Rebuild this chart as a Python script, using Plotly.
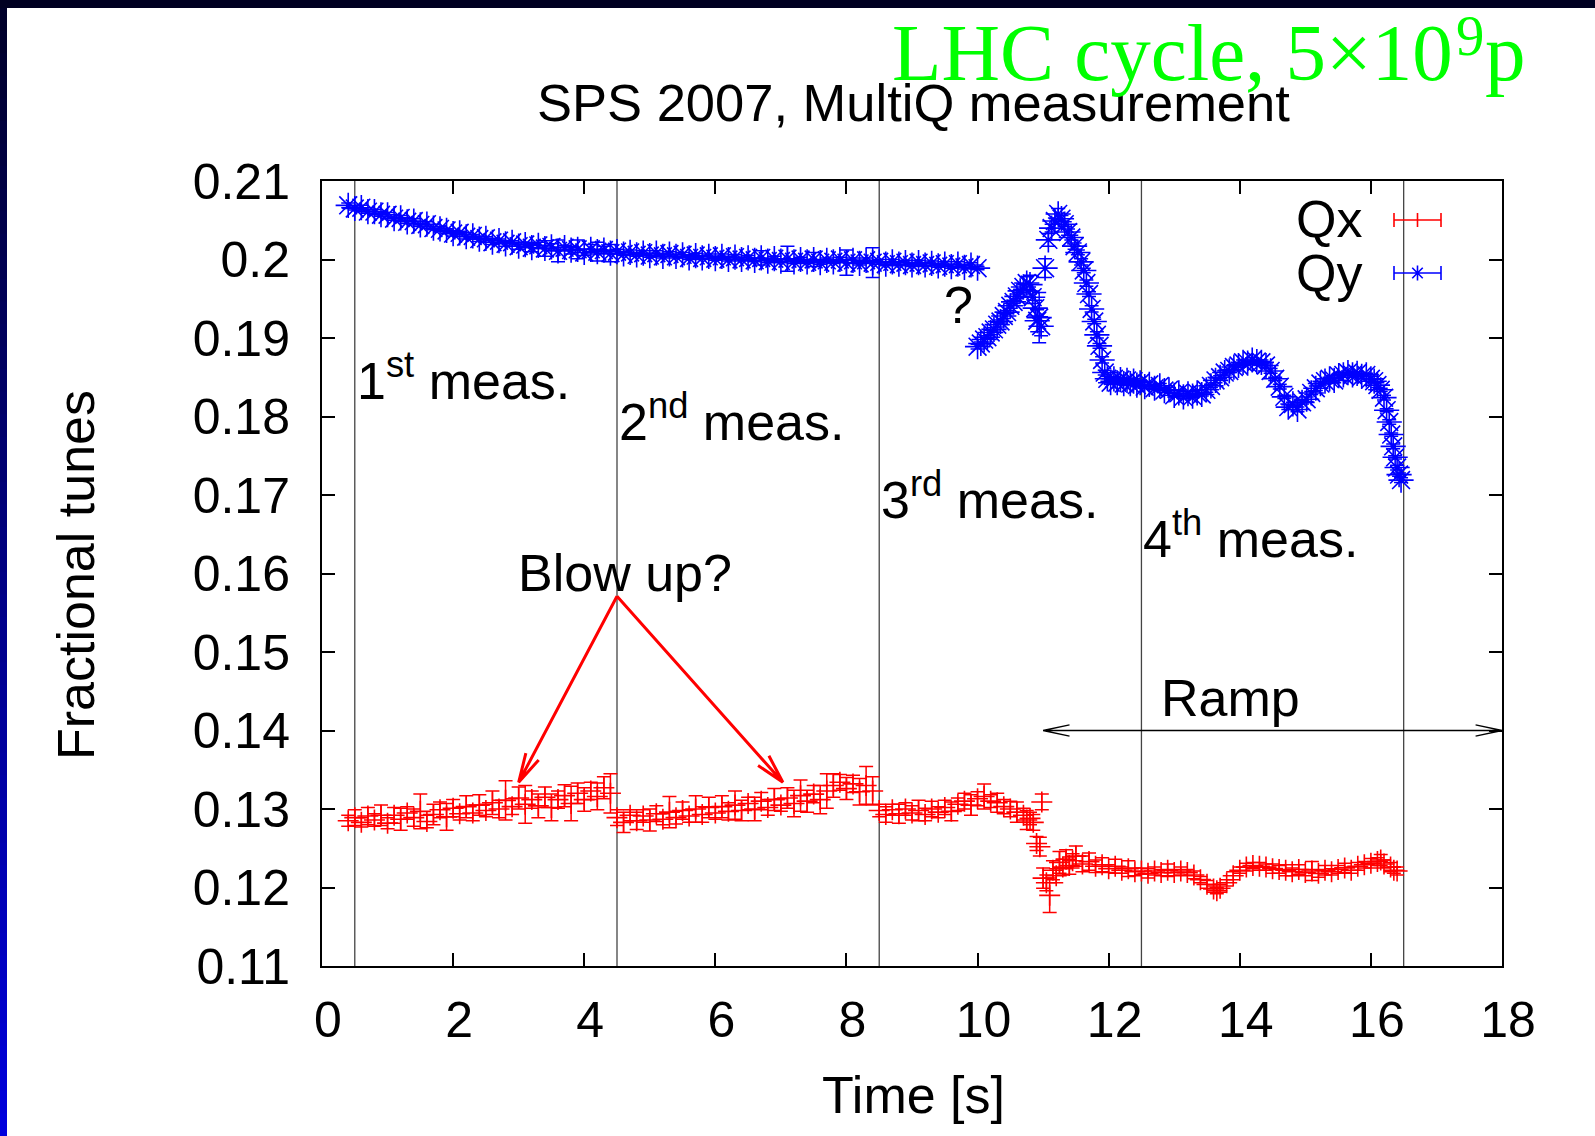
import math
import plotly.graph_objects as go

# ---------------- data ----------------
# Qy, first part (before the 10 s jump)
qy_t1 = [0.4, 0.5, 0.6, 0.7, 0.8, 0.9, 1.0, 1.1, 1.2, 1.3,
         1.4, 1.5, 1.6, 1.7, 1.8, 1.9, 2.0, 2.1, 2.2, 2.3,
         2.4, 2.5, 2.6, 2.7, 2.8, 2.9, 3.0, 3.1, 3.2, 3.3,
         3.4, 3.5, 3.6, 3.7, 3.8, 3.9, 4.0, 4.1, 4.2, 4.3,
         4.4, 4.5, 4.6, 4.7, 4.8, 4.9, 5.0, 5.1, 5.2, 5.3,
         5.4, 5.5, 5.6, 5.7, 5.8, 5.9, 6.0, 6.1, 6.2, 6.3,
         6.4, 6.5, 6.6, 6.7, 6.8, 6.9, 7.0, 7.1, 7.2, 7.3,
         7.4, 7.5, 7.6, 7.7, 7.8, 7.9, 8.0, 8.1, 8.2, 8.3,
         8.4, 8.5, 8.6, 8.7, 8.8, 8.9, 9.0, 9.1, 9.2, 9.3,
         9.4, 9.5, 9.6, 9.7, 9.8, 9.9, 10.0]
qy_v1 = [0.2069, 0.2065, 0.2066, 0.2061, 0.2061, 0.2057, 0.2057, 0.2052, 0.2053, 0.2048,
         0.2049, 0.2044, 0.2045, 0.2040, 0.2039, 0.2037, 0.2033, 0.2034, 0.2029, 0.2030,
         0.2026, 0.2027, 0.2022, 0.2024, 0.2020, 0.2022, 0.2017, 0.2019, 0.2015, 0.2018,
         0.2014, 0.2016, 0.2011, 0.2015, 0.2012, 0.2013, 0.2009, 0.2013, 0.2010, 0.2012,
         0.2008, 0.2010, 0.2007, 0.2009, 0.2006, 0.2008, 0.2005, 0.2008, 0.2004, 0.2007,
         0.2004, 0.2006, 0.2002, 0.2005, 0.2002, 0.2004, 0.2001, 0.2004, 0.2000, 0.2003,
         0.2000, 0.2002, 0.1999, 0.2002, 0.1998, 0.2001, 0.1998, 0.2001, 0.1997, 0.2000,
         0.1997, 0.2000, 0.1996, 0.1999, 0.1997, 0.2000, 0.1996, 0.1999, 0.1995, 0.1999,
         0.1996, 0.1997, 0.1994, 0.1997, 0.1994, 0.1996, 0.1993, 0.1996, 0.1993, 0.1995,
         0.1992, 0.1994, 0.1991, 0.1994, 0.1990, 0.1993, 0.1989]
qy_e1 = [0.0003, 0.0002, 0.0003, 0.0002, 0.0003, 0.0002, 0.0003, 0.0002, 0.0003, 0.0002,
         0.0003, 0.0002, 0.0003, 0.0002, 0.0003, 0.0002, 0.0003, 0.0002, 0.0003, 0.0002,
         0.0003, 0.0002, 0.0003, 0.0002, 0.0003, 0.0002, 0.0004, 0.0003, 0.0005, 0.0004,
         0.0010, 0.0004, 0.0014, 0.0003, 0.0005, 0.0012, 0.0004, 0.0006, 0.0012, 0.0005,
         0.0011, 0.0003, 0.0002, 0.0003, 0.0002, 0.0003, 0.0002, 0.0003, 0.0002, 0.0003,
         0.0002, 0.0003, 0.0002, 0.0003, 0.0002, 0.0003, 0.0002, 0.0003, 0.0002, 0.0003,
         0.0002, 0.0003, 0.0002, 0.0009, 0.0002, 0.0003, 0.0002, 0.0016, 0.0002, 0.0003,
         0.0002, 0.0009, 0.0002, 0.0003, 0.0002, 0.0003, 0.0016, 0.0003, 0.0002, 0.0003,
         0.0019, 0.0003, 0.0002, 0.0003, 0.0002, 0.0003, 0.0002, 0.0003, 0.0002, 0.0003,
         0.0002, 0.0003, 0.0002, 0.0003, 0.0002, 0.0003, 0.0002]

# Qy, second part (after 10 s)
qy_t2 = [10.00, 10.05, 10.10, 10.15, 10.20, 10.25, 10.30, 10.35, 10.40, 10.45,
         10.50, 10.55, 10.60, 10.65, 10.70, 10.75, 10.80, 10.84, 10.88, 10.91,
         10.94, 10.97, 11.03, 11.08, 11.13, 11.18, 11.23, 11.28, 11.33, 11.38,
         11.43, 11.48, 11.53, 11.58, 11.62, 11.66, 11.70, 11.74, 11.78, 11.82,
         11.86, 11.90, 11.94, 11.98, 12.03, 12.08, 12.13, 12.18, 12.23, 12.28,
         12.33, 12.38, 12.43, 12.48, 12.55, 12.62, 12.70, 12.78, 12.85, 12.92,
         13.00, 13.07, 13.14, 13.21, 13.28, 13.35, 13.42, 13.49, 13.56, 13.63,
         13.70, 13.77, 13.84, 13.91, 13.98, 14.05, 14.12, 14.19, 14.26, 14.33,
         14.40, 14.47, 14.54, 14.61, 14.68, 14.74, 14.81, 14.88, 14.95, 15.02,
         15.09, 15.16, 15.23, 15.30, 15.37, 15.44, 15.51, 15.58, 15.65, 15.72,
         15.79, 15.86, 15.93, 16.00, 16.05, 16.10, 16.15, 16.20, 16.24, 16.28,
         16.31, 16.34, 16.37, 16.40, 16.43, 16.46]
qy_v2 = [0.1889, 0.1893, 0.1898, 0.1901, 0.1907, 0.1911, 0.1917, 0.1921, 0.1928, 0.1933,
         0.1941, 0.1946, 0.1953, 0.1960, 0.1965, 0.1970, 0.1968, 0.1952, 0.1938, 0.1922,
         0.1926, 0.1915, 0.1989, 0.2025, 0.2040, 0.2049, 0.2058, 0.2052, 0.2045, 0.2035,
         0.2028, 0.2017, 0.2009, 0.1997, 0.1986, 0.1970, 0.1956, 0.1937, 0.1921, 0.1904,
         0.1890, 0.1872, 0.1856, 0.1848, 0.1843, 0.1848, 0.1843, 0.1847, 0.1842, 0.1846,
         0.1842, 0.1845, 0.1840, 0.1843, 0.1838, 0.1841, 0.1836, 0.1839, 0.1833, 0.1834,
         0.1827, 0.1830, 0.1825, 0.1829, 0.1826, 0.1830, 0.1828, 0.1834, 0.1839, 0.1846,
         0.1850, 0.1856, 0.1858, 0.1863, 0.1865, 0.1869, 0.1868, 0.1872, 0.1870, 0.1869,
         0.1865, 0.1858, 0.1848, 0.1838, 0.1825, 0.1812, 0.1816, 0.1809, 0.1818, 0.1822,
         0.1830, 0.1836, 0.1842, 0.1845, 0.1848, 0.1846, 0.1852, 0.1853, 0.1856, 0.1853,
         0.1855, 0.1851, 0.1853, 0.1848, 0.1845, 0.1840, 0.1834, 0.1824, 0.1808, 0.1793,
         0.1777, 0.1762, 0.1748, 0.1735, 0.1726, 0.1719]
qy_e2 = [0.0003, 0.0002, 0.0003, 0.0002, 0.0003, 0.0002, 0.0003, 0.0002, 0.0003, 0.0002,
         0.0003, 0.0002, 0.0003, 0.0002, 0.0004, 0.0008, 0.0012, 0.0008, 0.0010, 0.0014,
         0.0032, 0.0012, 0.0012, 0.0008, 0.0005, 0.0004, 0.0007, 0.0004, 0.0003, 0.0004,
         0.0003, 0.0004, 0.0003, 0.0004, 0.0003, 0.0004, 0.0003, 0.0004, 0.0003, 0.0004,
         0.0003, 0.0004, 0.0003, 0.0003, 0.0002, 0.0003, 0.0002, 0.0003, 0.0002, 0.0003,
         0.0002, 0.0003, 0.0002, 0.0003, 0.0002, 0.0003, 0.0002, 0.0003, 0.0002, 0.0003,
         0.0002, 0.0003, 0.0002, 0.0003, 0.0002, 0.0003, 0.0002, 0.0003, 0.0002, 0.0003,
         0.0002, 0.0003, 0.0002, 0.0003, 0.0002, 0.0003, 0.0002, 0.0003, 0.0002, 0.0003,
         0.0002, 0.0003, 0.0002, 0.0003, 0.0002, 0.0003, 0.0002, 0.0003, 0.0002, 0.0003,
         0.0002, 0.0003, 0.0002, 0.0003, 0.0002, 0.0003, 0.0002, 0.0003, 0.0002, 0.0003,
         0.0002, 0.0003, 0.0002, 0.0003, 0.0002, 0.0003, 0.0002, 0.0003, 0.0002, 0.0003,
         0.0002, 0.0003, 0.0002, 0.0003, 0.0002, 0.0003]

# Qx, 1st measurement
qx_t1 = [0.4, 0.5, 0.6, 0.7, 0.8, 0.9, 1.0, 1.1, 1.2, 1.3,
         1.4, 1.5, 1.6, 1.7, 1.8, 1.9, 2.0, 2.1, 2.2, 2.3,
         2.4, 2.5, 2.6, 2.7, 2.8, 2.9, 3.0, 3.1, 3.2, 3.3,
         3.4, 3.5, 3.6, 3.7, 3.8, 3.9, 4.0, 4.1, 4.2, 4.3,
         4.4]
qx_v1 = [0.1285, 0.1289, 0.1283, 0.1291, 0.1286, 0.1292, 0.1282, 0.1292, 0.1287, 0.1295,
         0.1289, 0.1297, 0.1284, 0.1293, 0.1299, 0.1290, 0.1301, 0.1294, 0.1303, 0.1295,
         0.1305, 0.1298, 0.1308, 0.1300, 0.1311, 0.1303, 0.1314, 0.1306, 0.1312, 0.1304,
         0.1315, 0.1302, 0.1312, 0.1317, 0.1307, 0.1320, 0.1312, 0.1323, 0.1316, 0.1327,
         0.1320]
qx_e1 = [0.0007, 0.0010, 0.0006, 0.0011, 0.0008, 0.0013, 0.0007, 0.0010, 0.0014, 0.0008,
         0.0011, 0.0022, 0.0008, 0.0013, 0.0010, 0.0017, 0.0011, 0.0008, 0.0014, 0.0010,
         0.0013, 0.0008, 0.0015, 0.0011, 0.0025, 0.0010, 0.0014, 0.0024, 0.0011, 0.0015,
         0.0013, 0.0017, 0.0011, 0.0014, 0.0022, 0.0013, 0.0015, 0.0011, 0.0017, 0.0014,
         0.0025]

# Qx, 2nd measurement
qx_t2 = [4.5, 4.6, 4.7, 4.8, 4.9, 5.0, 5.1, 5.2, 5.3, 5.4,
         5.5, 5.6, 5.7, 5.8, 5.9, 6.0, 6.1, 6.2, 6.3, 6.4,
         6.5, 6.6, 6.7, 6.8, 6.9, 7.0, 7.1, 7.2, 7.3, 7.4,
         7.5, 7.6, 7.7, 7.8, 7.9, 8.0, 8.1, 8.2, 8.3, 8.4]
qx_v2 = [0.1289, 0.1283, 0.1292, 0.1285, 0.1291, 0.1286, 0.1294, 0.1287, 0.1296, 0.1289,
         0.1298, 0.1291, 0.1300, 0.1293, 0.1302, 0.1295, 0.1303, 0.1297, 0.1305, 0.1298,
         0.1307, 0.1300, 0.1310, 0.1302, 0.1312, 0.1305, 0.1314, 0.1307, 0.1317, 0.1310,
         0.1319, 0.1312, 0.1323, 0.1330, 0.1334, 0.1326, 0.1332, 0.1322, 0.1330, 0.1323]
qx_e2 = [0.0010, 0.0013, 0.0007, 0.0011, 0.0008, 0.0014, 0.0010, 0.0007, 0.0020, 0.0008,
         0.0011, 0.0008, 0.0017, 0.0010, 0.0013, 0.0008, 0.0014, 0.0011, 0.0018, 0.0013,
         0.0008, 0.0015, 0.0011, 0.0010, 0.0014, 0.0008, 0.0013, 0.0017, 0.0020, 0.0014,
         0.0011, 0.0018, 0.0022, 0.0015, 0.0010, 0.0014, 0.0011, 0.0017, 0.0024, 0.0018]

# Qx, 3rd measurement (incl. the drop near 11 s)
qx_t3 = [8.5, 8.6, 8.7, 8.8, 8.9, 9.0, 9.1, 9.2, 9.3, 9.4,
         9.5, 9.6, 9.7, 9.8, 9.9, 10.0, 10.1, 10.2, 10.3, 10.4,
         10.5, 10.6, 10.7, 10.75, 10.8, 10.85, 10.9, 10.95, 10.98, 11.0,
         11.05, 11.1, 11.15, 11.2, 11.25, 11.3, 11.35, 11.4, 11.45, 11.5,
         11.6, 11.7, 11.8, 11.9]
qx_v3 = [0.1298, 0.1293, 0.1299, 0.1294, 0.1300, 0.1295, 0.1298, 0.1293, 0.1300, 0.1296,
         0.1302, 0.1297, 0.1306, 0.1310, 0.1305, 0.1313, 0.1316, 0.1310, 0.1308, 0.1303,
         0.1300, 0.1296, 0.1292, 0.1286, 0.1288, 0.1283, 0.1256, 0.1252, 0.1309, 0.1212,
         0.1206, 0.1190, 0.1222, 0.1215, 0.1232, 0.1226, 0.1236, 0.1228, 0.1234, 0.1240,
         0.1230, 0.1233, 0.1227, 0.1229]
qx_e3 = [0.0008, 0.0010, 0.0007, 0.0012, 0.0008, 0.0009, 0.0013, 0.0008, 0.0010, 0.0007,
         0.0009, 0.0012, 0.0008, 0.0010, 0.0013, 0.0009, 0.0016, 0.0008, 0.0012, 0.0009,
         0.0010, 0.0013, 0.0009, 0.0012, 0.0008, 0.0010, 0.0009, 0.0012, 0.0010, 0.0013,
         0.0010, 0.0022, 0.0012, 0.0009, 0.0014, 0.0010, 0.0012, 0.0011, 0.0009, 0.0013,
         0.0010, 0.0011, 0.0008, 0.0009]

# Qx, 4th measurement (ramp)
qx_t4 = [12.0, 12.1, 12.2, 12.3, 12.4, 12.5, 12.6, 12.7, 12.8, 12.9,
         13.0, 13.1, 13.2, 13.3, 13.4, 13.5, 13.6, 13.65, 13.7, 13.8,
         13.9, 14.0, 14.1, 14.2, 14.3, 14.4, 14.5, 14.6, 14.7, 14.8,
         14.9, 15.0, 15.1, 15.2, 15.3, 15.4, 15.5, 15.6, 15.7, 15.8,
         15.9, 16.0, 16.1, 16.15, 16.2, 16.3, 16.35, 16.4]
qx_v4 = [0.1224, 0.1227, 0.1222, 0.1224, 0.1220, 0.1221, 0.1218, 0.1221, 0.1219, 0.1222,
         0.1219, 0.1221, 0.1219, 0.1216, 0.1210, 0.1204, 0.1198, 0.1196, 0.1199, 0.1206,
         0.1215, 0.1222, 0.1226, 0.1228, 0.1227, 0.1226, 0.1224, 0.1223, 0.1222, 0.1220,
         0.1223, 0.1219, 0.1221, 0.1218, 0.1222, 0.1220, 0.1223, 0.1225, 0.1222, 0.1227,
         0.1229, 0.1231, 0.1233, 0.1235, 0.1230, 0.1226, 0.1222, 0.1221]
qx_e4 = [0.0005, 0.0009, 0.0004, 0.0010, 0.0005, 0.0004, 0.0006, 0.0005, 0.0004, 0.0008,
         0.0004, 0.0005, 0.0004, 0.0005, 0.0004, 0.0005, 0.0004, 0.0004, 0.0005, 0.0004,
         0.0005, 0.0004, 0.0005, 0.0004, 0.0005, 0.0004, 0.0006, 0.0005, 0.0007, 0.0005,
         0.0006, 0.0004, 0.0012, 0.0005, 0.0006, 0.0004, 0.0005, 0.0006, 0.0004, 0.0005,
         0.0004, 0.0006, 0.0005, 0.0007, 0.0005, 0.0006, 0.0004, 0.0005]

meas_starts = [0.5, 4.5, 8.5, 12.5, 16.5]
meas_labels = ["1<sup>st</sup> meas.", "2<sup>nd</sup> meas.",
               "3<sup>rd</sup> meas.", "4<sup>th</sup> meas."]
meas_label_baseline = [0.1821, 0.1769, 0.1670, 0.1620]

x_ticks = [0, 2, 4, 6, 8, 10, 12, 14, 16, 18]
y_ticks = [0.11, 0.12, 0.13, 0.14, 0.15, 0.16, 0.17, 0.18, 0.19, 0.20, 0.21]
y_tick_text = ["0.11", "0.12", "0.13", "0.14", "0.15", "0.16", "0.17",
               "0.18", "0.19", "0.2", "0.21"]

blowup_from = (4.5, 0.1571)
blowup_tips = [(3.0, 0.1334), (7.03, 0.1334)]
ramp_span = (11.0, 18.0, 0.14)

series_sets = [(qy_t1, qy_v1, qy_e1), (qy_t2, qy_v2, qy_e2),
               (qx_t1, qx_v1, qx_e1), (qx_t2, qx_v2, qx_e2),
               (qx_t3, qx_v3, qx_e3), (qx_t4, qx_v4, qx_e4)]
for a, b, c in series_sets:
    assert len(a) == len(b) == len(c), (len(a), len(b), len(c))

qy_t = qy_t1 + qy_t2
qy = qy_v1 + qy_v2
qy_err = qy_e1 + qy_e2
qx_t = qx_t1 + qx_t2 + qx_t3 + qx_t4
qx = qx_v1 + qx_v2 + qx_v3 + qx_v4
qx_err = qx_e1 + qx_e2 + qx_e3 + qx_e4

# ---------------- geometry helpers ----------------
W, H = 1595, 1136
ML, MR, MT, MB = 322, 93, 181, 170
PW = W - ML - MR
PH = H - MT - MB
XR = (0, 18)
YR = (0.11, 0.21)
FONT = "Liberation Sans, Arial, Helvetica, sans-serif"
SERIF = "Liberation Serif, Times New Roman, serif"
FS = 52


def PX(p):  # pixel x -> paper
    return (p - ML) / PW


def PY(p):  # pixel y -> paper
    return (H - MB - p) / PH


def dpx(t):  # data x -> pixel
    return ML + (t - XR[0]) / (XR[1] - XR[0]) * PW


def dpy(v):  # data y -> pixel
    return H - MB - (v - YR[0]) / (YR[1] - YR[0]) * PH


def arrow_path(p0, p1, head, half_deg, both=False):
    def pt(p):
        return f"{PX(p[0]):.5f},{PY(p[1]):.5f}"

    def head_at(tip, frm):
        ang = math.atan2(frm[1] - tip[1], frm[0] - tip[0])
        a = math.radians(half_deg)
        w1 = (tip[0] + head * math.cos(ang + a), tip[1] + head * math.sin(ang + a))
        w2 = (tip[0] + head * math.cos(ang - a), tip[1] + head * math.sin(ang - a))
        return f" M{pt(w1)} L{pt(tip)} L{pt(w2)}"

    path = f"M{pt(p0)} L{pt(p1)}" + head_at(p1, p0)
    if both:
        path += head_at(p0, p1)
    return path


fig = go.Figure()

fig.add_trace(go.Scatter(
    x=qx_t, y=qx, mode="markers", name="Qx", showlegend=False,
    marker=dict(symbol="cross-thin-open", size=15, color="#ff0000",
                line=dict(width=1.6, color="#ff0000")),
    error_y=dict(type="data", array=qx_err, visible=True, color="#ff0000",
                 thickness=1.5, width=7),
))
fig.add_trace(go.Scatter(
    x=qy_t, y=qy, mode="markers", name="Qy", showlegend=False,
    marker=dict(symbol="asterisk-open", size=21, color="#0000ff",
                line=dict(width=1.6, color="#0000ff")),
    error_y=dict(type="data", array=qy_err, visible=True, color="#0000ff",
                 thickness=1.5, width=7),
))

shapes = []
# measurement boundaries
for xs in meas_starts:
    shapes.append(dict(type="line", xref="x", yref="paper", x0=xs, x1=xs, y0=0, y1=1,
                       line=dict(color="#444444", width=1.3), layer="below"))

# blow-up arrows (red)
for tip in blowup_tips:
    shapes.append(dict(type="path", xref="paper", yref="paper",
                       path=arrow_path((dpx(blowup_from[0]), dpy(blowup_from[1])),
                                       (dpx(tip[0]), dpy(tip[1])), 30, 14),
                       line=dict(color="#ff0000", width=3)))
# ramp double arrow
shapes.append(dict(type="path", xref="paper", yref="paper",
                   path=arrow_path((dpx(ramp_span[0]), dpy(ramp_span[2])),
                                   (dpx(ramp_span[1]), dpy(ramp_span[2])), 27, 12, both=True),
                   line=dict(color="#000000", width=1.3)))

# custom legend samples
for yy, col, star in [(220, "#ff0000", False), (273, "#0000ff", True)]:
    x0, x1, xc, c = 1394, 1441, 1417.5, 7
    p = (f"M{PX(x0)},{PY(yy)} L{PX(x1)},{PY(yy)} "
         f"M{PX(x0)},{PY(yy - c)} L{PX(x0)},{PY(yy + c)} "
         f"M{PX(x1)},{PY(yy - c)} L{PX(x1)},{PY(yy + c)} ")
    if star:
        d = 7.5
        p += (f"M{PX(xc)},{PY(yy - d)} L{PX(xc)},{PY(yy + d)} "
              f"M{PX(xc - d)},{PY(yy)} L{PX(xc + d)},{PY(yy)} "
              f"M{PX(xc - 0.7 * d)},{PY(yy - 0.7 * d)} L{PX(xc + 0.7 * d)},{PY(yy + 0.7 * d)} "
              f"M{PX(xc - 0.7 * d)},{PY(yy + 0.7 * d)} L{PX(xc + 0.7 * d)},{PY(yy - 0.7 * d)}")
    else:
        p += f"M{PX(xc)},{PY(yy - c)} L{PX(xc)},{PY(yy + c)}"
    shapes.append(dict(type="path", xref="paper", yref="paper", path=p,
                       line=dict(color=col, width=1.6)))

# slide frame: dark top bar and left gradient bar
shapes.append(dict(type="rect", xref="paper", yref="paper", x0=PX(0), x1=PX(W),
                   y0=PY(8), y1=PY(0), fillcolor="#000022", line=dict(width=0), layer="above"))
n = 50
for i in range(n):
    ya = 8 + (H - 8) * i / n
    yb = 8 + (H - 8) * (i + 1) / n + 1
    f = i / (n - 1)
    b = int(0x2a + (0xdc - 0x2a) * f)
    shapes.append(dict(type="rect", xref="paper", yref="paper", x0=PX(0), x1=PX(7),
                       y0=PY(yb), y1=PY(ya), fillcolor=f"rgb(0,0,{b})",
                       line=dict(width=0), layer="above"))

annotations = []


def text_at(text, x, y, xanchor="center", size=FS, color="black", family=FONT,
            xref="paper", yref="paper", yshift=-12, angle=0, yanchor="bottom", xshift=0):
    annotations.append(dict(text=text, x=x, y=y, xref=xref, yref=yref, xanchor=xanchor,
                            yanchor=yanchor, showarrow=False, yshift=yshift, xshift=xshift,
                            textangle=angle, font=dict(family=family, size=size, color=color)))


# measurement labels
for xs, lab, yb in zip(meas_starts, meas_labels, meas_label_baseline):
    text_at(lab, xs, yb, xanchor="left", xref="x", yref="y", xshift=0)
text_at("?", 9.71, 0.1918, xref="x", yref="y")
text_at("Blow up?", 4.62, 0.1576, xref="x", yref="y")
text_at("Ramp", 13.86, 0.1417, xref="x", yref="y")

# titles
text_at("SPS 2007, MultiQ measurement", PX(913), PY(122), size=52.5)
# green slide header, written in three pieces so the exponent sits like the original
G = 81
text_at("p", PX(1528), PY(81), xanchor="right", size=G, color="#00ff00",
        family=SERIF, yshift=-19)
text_at("9", PX(1528 - 0.5 * G - 2), PY(56), xanchor="right", size=0.7 * G,
        color="#00ff00", family=SERIF, yshift=-13)
text_at("LHC cycle, 5\u00d710", PX(1528 - 0.5 * G - 2 - 0.35 * G - 2), PY(81),
        xanchor="right", size=G, color="#00ff00", family=SERIF, yshift=-19)
text_at("Time [s]", PX(913), PY(1114))
text_at("Fractional tunes", PX(76), PY(575), angle=-90, yanchor="middle", yshift=0)

# legend labels
text_at("Qx", PX(1364), PY(238), xanchor="right")
text_at("Qy", PX(1364), PY(292), xanchor="right")

axis_common = dict(showline=True, linecolor="black", linewidth=2, mirror="ticks",
                   ticks="inside", ticklen=13, tickwidth=2, tickcolor="black",
                   showgrid=False, zeroline=False,
                   tickfont=dict(family=FONT, size=50, color="black"))

fig.update_layout(
    width=W, height=H, autosize=False,
    margin=dict(l=ML, r=MR, t=MT, b=MB),
    paper_bgcolor="white", plot_bgcolor="white",
    showlegend=False,
    xaxis=dict(range=list(XR), tickvals=x_ticks, ticklabelstandoff=9,
               ticklabelshift=6, **axis_common),
    yaxis=dict(range=list(YR), tickvals=y_ticks, ticktext=y_tick_text,
               ticklabelstandoff=20, **axis_common),
    shapes=shapes,
    annotations=annotations,
)

fig.write_html("out.html")
